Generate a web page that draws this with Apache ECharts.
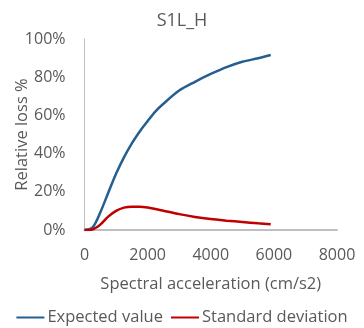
<!DOCTYPE html>
<html>
<head>
<meta charset="utf-8">
<script src="https://cdn.jsdelivr.net/npm/echarts@6/dist/echarts.min.js"></script>
<style>html,body{margin:0;padding:0;background:#fff}#c{width:364px;height:328px}</style>
</head>
<body>
<div id="c"></div>
<script>
var xValues = [0, 250, 500, 750, 1000, 1250, 1500, 1750, 2000, 2250, 2500, 3000, 3500, 4000, 4500, 5000, 5500, 5900];
var expectedValue = [0, 1.2, 9.2, 19.4, 29.4, 38, 45.4, 51.6, 57, 62.1, 66.1, 73, 77.6, 81.7, 85.3, 88.1, 89.9, 91.6];
var standardDeviation = [0, 0.3, 2.8, 7, 10, 11.7, 12.2, 12.2, 11.8, 11.0, 10.1, 8.3, 6.8, 5.7, 4.9, 4.2, 3.5, 3.0];
var yTicks = [0, 20, 40, 60, 80, 100];
var xTicks = [0, 2000, 4000, 6000, 8000];

function pairs(xs, ys) { return xs.map(function (x, i) { return [x, ys[i]]; }); }

var FONT = 'Open Sans';
var TXT = '#595959';
var chart = echarts.init(document.getElementById('c'), null, { renderer: 'canvas' });
chart.setOption({
  animation: false,
  textStyle: { fontFamily: FONT, color: TXT },
  title: {
    text: 'S1L_H', left: 'center', top: 7,
    textStyle: { fontFamily: FONT, fontSize: 18, fontWeight: 'normal', color: TXT }
  },
  legend: {
    bottom: 2, left: 'center', padding: 0, itemGap: 8, itemWidth: 28, itemHeight: 2, icon: 'rect',
    textStyle: { fontFamily: FONT, fontSize: 16.5, color: TXT, padding: [0, 0, 0, -2] },
    data: ['Expected value', 'Standard deviation']
  },
  grid: { left: 84.5, right: 27, top: 39, bottom: 98, containLabel: false, outerBoundsMode: 'none' },
  xAxis: {
    type: 'value', min: xTicks[0], max: xTicks[xTicks.length - 1], interval: 2000,
    name: 'Spectral acceleration (cm/s2)', nameLocation: 'middle', nameGap: 46, nameMoveOverlap: false,
    nameTextStyle: { fontFamily: FONT, fontSize: 16.5, color: TXT },
    axisLine: { show: true, lineStyle: { color: '#bfbfbf', width: 2 } },
    axisTick: { show: false },
    splitLine: { show: false },
    axisLabel: { fontFamily: FONT, fontSize: 16, color: TXT, margin: 17, formatter: function (v) { return String(v); } }
  },
  yAxis: {
    type: 'value', min: yTicks[0], max: yTicks[yTicks.length - 1], interval: 20,
    name: 'Relative loss %', nameLocation: 'middle', nameGap: 54, nameMoveOverlap: false,
    nameTextStyle: { fontFamily: FONT, fontSize: 16.5, color: TXT },
    axisLine: { show: true, lineStyle: { color: '#bfbfbf', width: 1 } },
    axisTick: { show: false },
    splitLine: { show: false },
    axisLabel: { fontFamily: FONT, fontSize: 16, color: TXT, margin: 19, formatter: '{value}%' }
  },
  series: [
    {
      name: 'Expected value', type: 'line', smooth: 0.3, symbol: 'none',
      lineStyle: { color: '#255E91', width: 2.5 }, itemStyle: { color: '#255E91' },
      data: pairs(xValues, expectedValue)
    },
    {
      name: 'Standard deviation', type: 'line', smooth: 0.3, symbol: 'none',
      lineStyle: { color: '#C00000', width: 2.5 }, itemStyle: { color: '#C00000' },
      data: pairs(xValues, standardDeviation)
    }
  ]
});
</script>
</body>
</html>
